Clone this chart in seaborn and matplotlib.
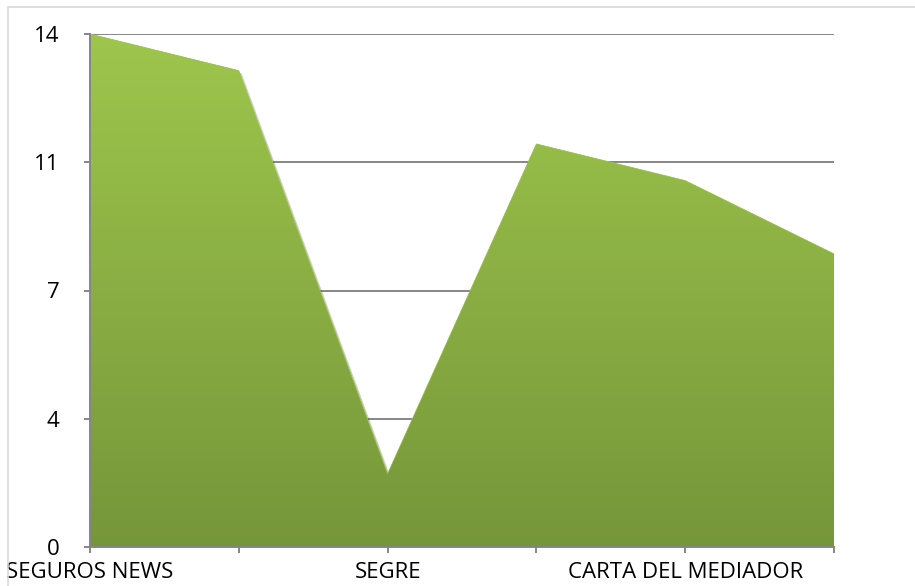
import numpy as np
import pandas as pd
import matplotlib
matplotlib.use("Agg")
import matplotlib.pyplot as plt
import matplotlib.patheffects as pe
from matplotlib.colors import LinearSegmentedColormap
from matplotlib.lines import Line2D
import seaborn as sns

# datos
tick_labels = ["SEGUROS NEWS", "", "SEGRE", "", "CARTA DEL MEDIADOR", ""]
values = [14, 13, 2, 11, 10, 8]
y_ticks = [0, 3.5, 7, 10.5, 14]
y_tick_labels = ["0", "4", "7", "11", "14"]

df = pd.DataFrame({"pos": range(len(values)), "value": values})

sns.set_style("white")
plt.rcParams["font.family"] = ["Open Sans", "DejaVu Sans"]

fig = plt.figure(figsize=(9.15, 5.86), dpi=100)
ax = fig.add_axes([90 / 915, 39 / 586, 744 / 915, 513 / 586])

# borde del grafico
fig.add_artist(Line2D([8 / 915, 1.0], [1 - 7 / 586, 1 - 7 / 586], color="#d9d9d9", lw=1.2))
fig.add_artist(Line2D([8 / 915, 8 / 915], [0, 1 - 7 / 586], color="#d9d9d9", lw=1.2))

# area con degradado
poly = ax.fill_between(df["pos"], 0, df["value"], color="#8aae42", lw=0, zorder=2,
                       path_effects=[pe.SimplePatchShadow(offset=(2, -2), alpha=0.25), pe.Normal()])
cmap = LinearSegmentedColormap.from_list("verde", ["#76963a", "#9ec64c"])
grad = np.linspace(0, 1, 256).reshape(-1, 1)
img = ax.imshow(grad, cmap=cmap, aspect="auto", origin="lower",
                extent=[0, len(values) - 1, 0, 14], zorder=3)
img.set_clip_path(poly.get_paths()[0], transform=ax.transData)
sns.lineplot(data=df, x="pos", y="value", color="#9ec64c", lw=0.5, ax=ax, zorder=4)

ax.set_xlim(0, len(values) - 1)
ax.set_ylim(0, 14)
ax.set_yticks(y_ticks)
ax.set_yticklabels(y_tick_labels)
ax.set_xticks(range(len(values)))
ax.set_xticklabels(tick_labels)
ax.set_xlabel("")
ax.set_ylabel("")

ax.grid(axis="y", color="#868686", lw=1.4, zorder=1)
ax.set_axisbelow(True)
for s in ["top", "right"]:
    ax.spines[s].set_visible(False)
for s in ["left", "bottom"]:
    ax.spines[s].set_color("#868686")
    ax.spines[s].set_linewidth(1.4)
    ax.spines[s].set_zorder(5)

ax.tick_params(axis="y", length=4, width=1.4, color="#868686", pad=18, labelsize=16,
               labelcolor="black", left=True)
ax.tick_params(axis="x", length=4, width=1.4, color="#868686", pad=7, labelsize=16,
               labelcolor="black", bottom=True)

fig.savefig("out.png", dpi=100)
